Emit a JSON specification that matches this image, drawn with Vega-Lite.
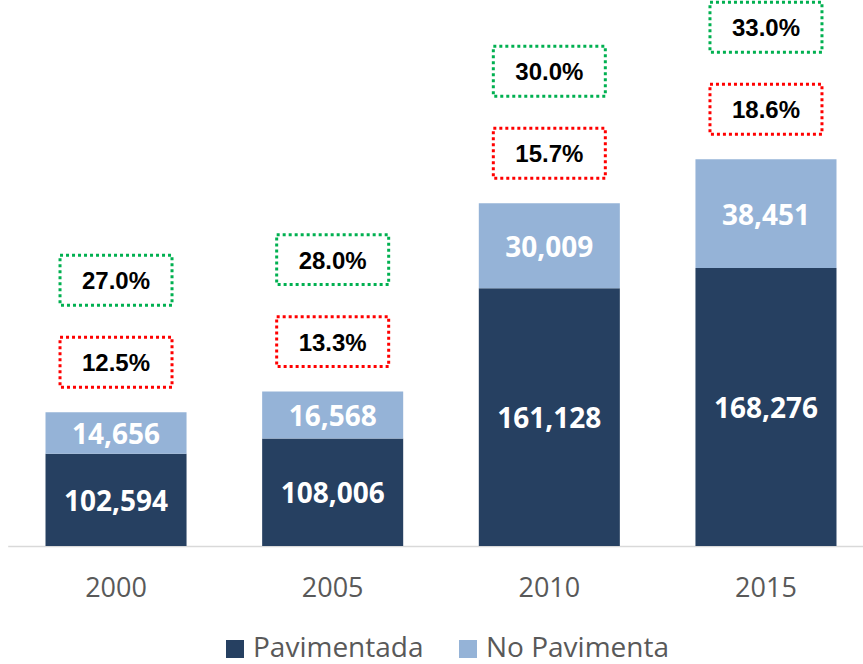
{
  "$schema": "https://vega.github.io/schema/vega-lite/v6.json",
  "width": 863,
  "height": 546,
  "autosize": {"type": "none"},
  "padding": {"left": 0, "top": 0, "right": 0, "bottom": 118},
  "background": "white",
  "config": {
    "view": {"stroke": null},
    "axis": {"grid": false}
  },
  "datasets": {
    "barras": [
      {"año": "2000", "tipo": "Pavimentada", "valor": 102594},
      {"año": "2000", "tipo": "No Pavimenta", "valor": 14656},
      {"año": "2005", "tipo": "Pavimentada", "valor": 108006},
      {"año": "2005", "tipo": "No Pavimenta", "valor": 16568},
      {"año": "2010", "tipo": "Pavimentada", "valor": 161128},
      {"año": "2010", "tipo": "No Pavimenta", "valor": 30009},
      {"año": "2015", "tipo": "Pavimentada", "valor": 168276},
      {"año": "2015", "tipo": "No Pavimenta", "valor": 38451}
    ],
    "pct": [
      {"año": "2000", "rojo": 0.125, "verde": 0.27},
      {"año": "2005", "rojo": 0.133, "verde": 0.28},
      {"año": "2010", "rojo": 0.157, "verde": 0.30},
      {"año": "2015", "rojo": 0.186, "verde": 0.33}
    ]
  },
  "layer": [
    {
      "data": {"name": "barras"},
      "transform": [
        {"stack": "valor", "groupby": ["año"], "sort": [{"field": "tipo", "order": "descending"}], "as": ["y0", "y1"]},
        {"calculate": "(max(datum.y0, 70000) + datum.y1) / 2", "as": "mid"}
      ],
      "layer": [
        {
          "mark": {"type": "bar", "clip": true},
          "encoding": {
            "x": {
              "field": "año", "type": "ordinal",
              "scale": {"range": [7.7, 874.3], "paddingInner": 0.349, "paddingOuter": 0.1745},
              "axis": {
                "title": null, "ticks": false, "tickSize": 0, "labelAngle": 0,
                "labelFont": "Open Sans", "labelFontSize": 27, "labelColor": "#595959",
                "labelBaseline": "middle", "labelPadding": 42,
                "domainColor": "#D9D9D9", "domainWidth": 1.5
              }
            },
            "y": {
              "field": "y1", "type": "quantitative",
              "scale": {"domain": [70000, 263000], "zero": false, "nice": false},
              "axis": null
            },
            "y2": {"field": "y0"},
            "color": {
              "field": "tipo", "type": "nominal",
              "scale": {"domain": ["Pavimentada", "No Pavimenta"], "range": ["#264061", "#95B3D7"]},
              "legend": {
                "orient": "none", "legendX": 221, "legendY": 635, "direction": "horizontal",
                "title": null, "symbolType": "square", "symbolSize": 324, "symbolStrokeWidth": 0,
                "labelFont": "Open Sans", "labelFontSize": 28, "labelColor": "#595959",
                "labelLimit": 400, "columnPadding": 30, "labelOffset": 4, "padding": 0
              }
            }
          }
        },
        {
          "mark": {"type": "text", "font": "Open Sans", "fontWeight": "bold", "fontSize": 28, "color": "white", "baseline": "middle", "dy": 3},
          "encoding": {
            "x": {"field": "año", "type": "ordinal"},
            "y": {"field": "mid", "type": "quantitative"},
            "text": {"field": "valor", "type": "quantitative", "format": ",d"}
          }
        }
      ]
    },
    {
      "data": {"name": "barras"},
      "transform": [
        {"aggregate": [{"op": "sum", "field": "valor", "as": "total"}], "groupby": ["año"]},
        {"lookup": "año", "from": {"data": {"name": "pct"}, "key": "año", "fields": ["rojo", "verde"]}}
      ],
      "layer": [
        {
          "mark": {"type": "point", "shape": "M-1,-0.446L1,-0.446L1,0.446L-1,0.446Z", "size": 12544, "filled": false, "stroke": "#FF0000", "strokeWidth": 3, "strokeDash": [3, 3], "opacity": 1, "yOffset": -50},
          "encoding": {
            "x": {"field": "año", "type": "ordinal"},
            "y": {"field": "total", "type": "quantitative"}
          }
        },
        {
          "mark": {"type": "text", "font": "Liberation Sans", "fontWeight": "bold", "fontSize": 24, "color": "black", "baseline": "middle", "dy": -48},
          "encoding": {
            "x": {"field": "año", "type": "ordinal"},
            "y": {"field": "total", "type": "quantitative"},
            "text": {"field": "rojo", "type": "quantitative", "format": ".1%"}
          }
        },
        {
          "mark": {"type": "point", "shape": "M-1,-0.446L1,-0.446L1,0.446L-1,0.446Z", "size": 12544, "filled": false, "stroke": "#00B050", "strokeWidth": 3, "strokeDash": [3, 3], "opacity": 1, "yOffset": -132},
          "encoding": {
            "x": {"field": "año", "type": "ordinal"},
            "y": {"field": "total", "type": "quantitative"}
          }
        },
        {
          "mark": {"type": "text", "font": "Liberation Sans", "fontWeight": "bold", "fontSize": 24, "color": "black", "baseline": "middle", "dy": -130},
          "encoding": {
            "x": {"field": "año", "type": "ordinal"},
            "y": {"field": "total", "type": "quantitative"},
            "text": {"field": "verde", "type": "quantitative", "format": ".1%"}
          }
        }
      ]
    }
  ]
}
